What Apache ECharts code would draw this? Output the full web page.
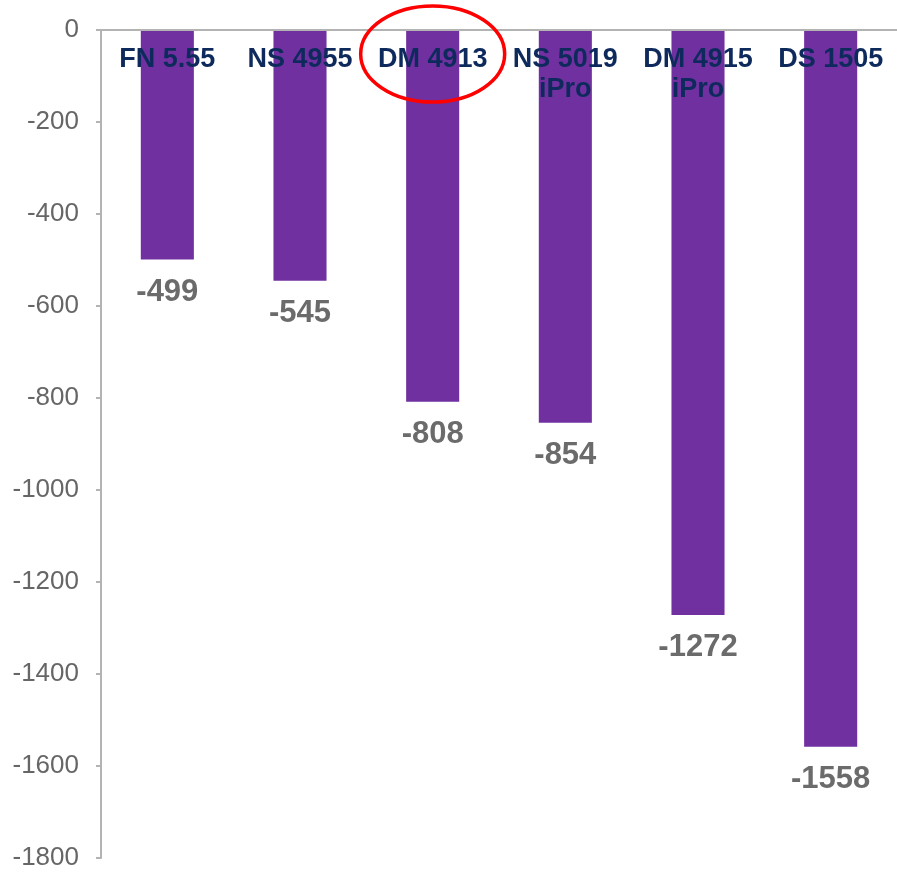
<!DOCTYPE html>
<html>
<head>
<meta charset="utf-8">
<script src="https://cdn.jsdelivr.net/npm/echarts@6/dist/echarts.min.js"></script>
<style>html,body{margin:0;padding:0;background:#fff}#c{width:897px;height:874px}</style>
</head>
<body>
<div id="c"></div>
<script>
const categories = ['FN 5.55', 'NS 4955', 'DM 4913', 'NS 5019\niPro', 'DM 4915\niPro', 'DS 1505'];
const values = [-499, -545, -808, -854, -1272, -1558];
const highlighted = 'DM 4913';

const chart = echarts.init(document.getElementById('c'));
chart.setOption({
  animation: false,
  grid: { left: 101, right: -5, top: 30, bottom: 16 },
  xAxis: {
    type: 'category',
    data: categories,
    position: 'top',
    z: 10,
    axisLine: { lineStyle: { color: '#b3b3b3', width: 2 } },
    axisTick: { inside: true, length: 7, lineStyle: { color: '#b3b3b3', width: 2 } },
    axisLabel: {
      inside: true, margin: 15,
      fontFamily: 'Liberation Sans, Arial', fontWeight: 'bold', fontSize: 27,
      lineHeight: 30, color: '#0e2a5c', interval: 0
    }
  },
  yAxis: {
    type: 'value', min: -1800, max: 0, interval: 200,
    splitLine: { show: false },
    axisLine: { show: true, lineStyle: { color: '#b3b3b3', width: 2 } },
    axisTick: { show: true, length: 5, lineStyle: { color: '#b3b3b3', width: 2 } },
    axisLabel: {
      margin: 22, fontFamily: 'Liberation Sans, Arial', fontSize: 26, color: '#666666',
      formatter: v => String(v)
    }
  },
  series: [{
    type: 'bar',
    data: values,
    barWidth: '40%',
    itemStyle: { color: '#7030a0' },
    label: {
      show: true, position: 'bottom', distance: 17,
      fontFamily: 'Liberation Sans, Arial', fontWeight: 'bold', fontSize: 31,
      color: '#6b6b6b'
    }
  }]
});
const idx = categories.indexOf(highlighted);
const p = chart.convertToPixel({ xAxisIndex: 0 }, idx);
chart.setOption({
  graphic: [{
    type: 'ellipse', z: 100,
    shape: { cx: p, cy: 54, rx: 72, ry: 48 },
    style: { fill: 'none', stroke: '#ff0000', lineWidth: 3.5 }
  }]
});
</script>
</body>
</html>
